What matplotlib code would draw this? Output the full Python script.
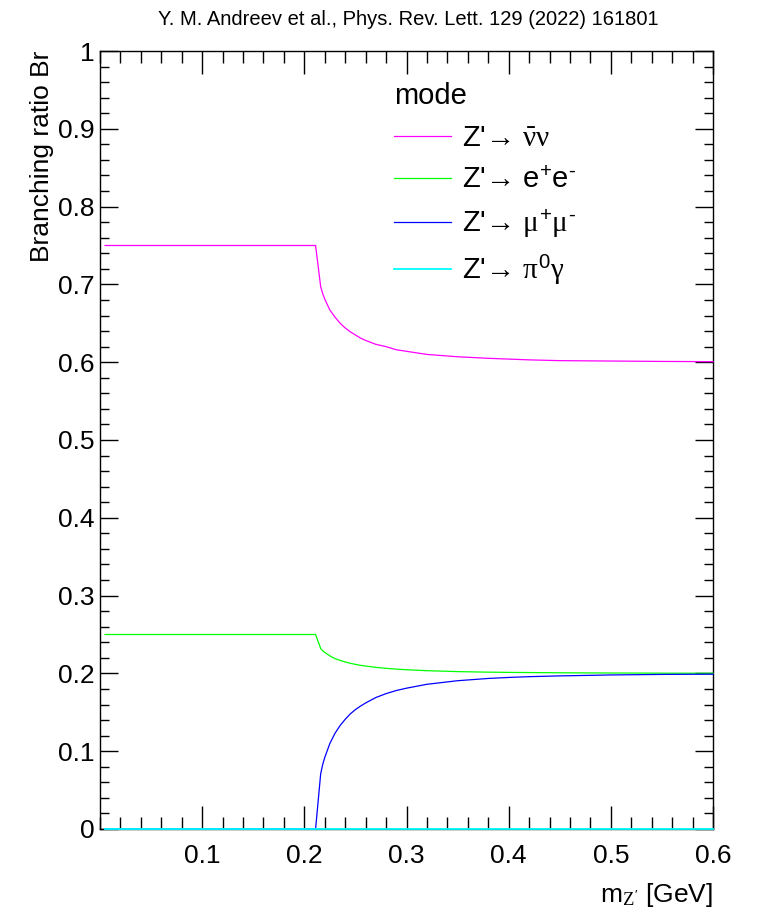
"""
Z' branching ratios vs mass
"""
import matplotlib
matplotlib.use("Agg")
from matplotlib import pyplot as plt
from matplotlib.ticker import MultipleLocator

plt.rcParams['font.family'] = ['Liberation Sans', 'DejaVu Sans']
plt.rcParams['mathtext.fontset'] = 'custom'
plt.rcParams['mathtext.rm'] = 'Liberation Sans'
plt.rcParams['mathtext.it'] = 'Liberation Serif'
plt.rcParams['mathtext.bf'] = 'Liberation Sans:bold'

# Mass points [GeV]
mass = [0.005, 0.211, 0.216, 0.218, 0.22, 0.225, 0.23, 0.235, 0.24, 0.245,
        0.25, 0.255, 0.26, 0.27, 0.28, 0.29, 0.30, 0.32, 0.35, 0.38,
        0.40, 0.42, 0.45, 0.50, 0.55, 0.60]

# Branching ratios per mode
br_nunu = [0.750, 0.750, 0.697, 0.688, 0.681, 0.667, 0.658, 0.650, 0.644, 0.639,
           0.635, 0.631, 0.628, 0.623, 0.620, 0.616, 0.614, 0.610, 0.607, 0.605,
           0.604, 0.603, 0.602, 0.6015, 0.601, 0.6007]
br_ee = [0.250, 0.250, 0.232, 0.229, 0.227, 0.2225, 0.219, 0.2167, 0.2147, 0.213,
         0.2116, 0.2104, 0.2094, 0.2078, 0.2065, 0.2055, 0.2047, 0.2035, 0.2023, 0.2016,
         0.2013, 0.2011, 0.2008, 0.2005, 0.2003, 0.2002]
br_mumu = [0.0, 0.0, 0.071, 0.083, 0.092, 0.110, 0.123, 0.133, 0.141, 0.148,
           0.1535, 0.158, 0.162, 0.169, 0.174, 0.178, 0.181, 0.186, 0.1906, 0.1935,
           0.1948, 0.1958, 0.1968, 0.198, 0.1987, 0.199]
br_pigamma = [0.0] * len(mass)

labels = ["Z'→ $\\bar{\\nu}\\nu$",
          "Z'→ e$^{+}$e$^{\\text{-}}$",
          "Z'→ $\\mu^{+}\\mu^{\\text{-}}$",
          "Z'→ $\\pi^{0}\\gamma$"]
colors = ["#ff00ff", "#00ff00", "#0000ff", "#00ffff"]
widths = [0.9, 0.9, 0.9, 1.3]

fig = plt.figure(figsize=(7.57, 9.14), dpi=100)
ax = fig.add_axes([0.1321, 0.0930, 0.9419 - 0.1321, 0.9442 - 0.0930])

for ys, lab, col, lw in zip([br_nunu, br_ee, br_mumu, br_pigamma], labels, colors, widths):
    ax.plot(mass, ys, color=col, lw=lw, label=lab, zorder=3, clip_on=False)

ax.set_xlim(0, 0.6)
ax.set_ylim(0, 1)
ax.set_xticks([0.1, 0.2, 0.3, 0.4, 0.5, 0.6])
ax.set_xticklabels(["0.1", "0.2", "0.3", "0.4", "0.5", "0.6"])
ax.set_yticks([0, 0.1, 0.2, 0.3, 0.4, 0.5, 0.6, 0.7, 0.8, 0.9, 1.0])
ax.set_yticklabels(["0", "0.1", "0.2", "0.3", "0.4", "0.5", "0.6", "0.7", "0.8", "0.9", "1"])
ax.xaxis.set_minor_locator(MultipleLocator(0.02))
ax.yaxis.set_minor_locator(MultipleLocator(0.02))

ax.tick_params(axis='x', which='major', direction='in', top=True, bottom=True,
               length=16.5, width=1, labelsize=19, pad=11)
ax.tick_params(axis='x', which='minor', direction='in', top=True, bottom=True,
               length=8.5, width=1)
ax.tick_params(axis='y', which='major', direction='in', left=True, right=True,
               length=13, width=1, labelsize=19, pad=4)
ax.tick_params(axis='y', which='minor', direction='in', left=True, right=True,
               length=6.5, width=1)
for sp in ax.spines.values():
    sp.set_linewidth(1)

ax.set_xlabel("m$_{Z'}$ [GeV]", fontsize=19, loc='right', labelpad=9)
ax.set_ylabel("Branching ratio Br", fontsize=19, loc='top', labelpad=3)

leg = ax.legend(loc='upper left', bbox_to_anchor=(0.447, 0.986), frameon=False,
                fontsize=21, title="mode", title_fontsize=21, alignment='left',
                handlelength=1.95, handletextpad=0.35, labelspacing=0.47,
                borderpad=0.2)

fig.text(0.539, 0.979, "Y. M. Andreev et al., Phys. Rev. Lett. 129 (2022) 161801",
         ha='center', va='center', fontsize=14.5)

plt.savefig("out.png", dpi=100)
plt.close()
